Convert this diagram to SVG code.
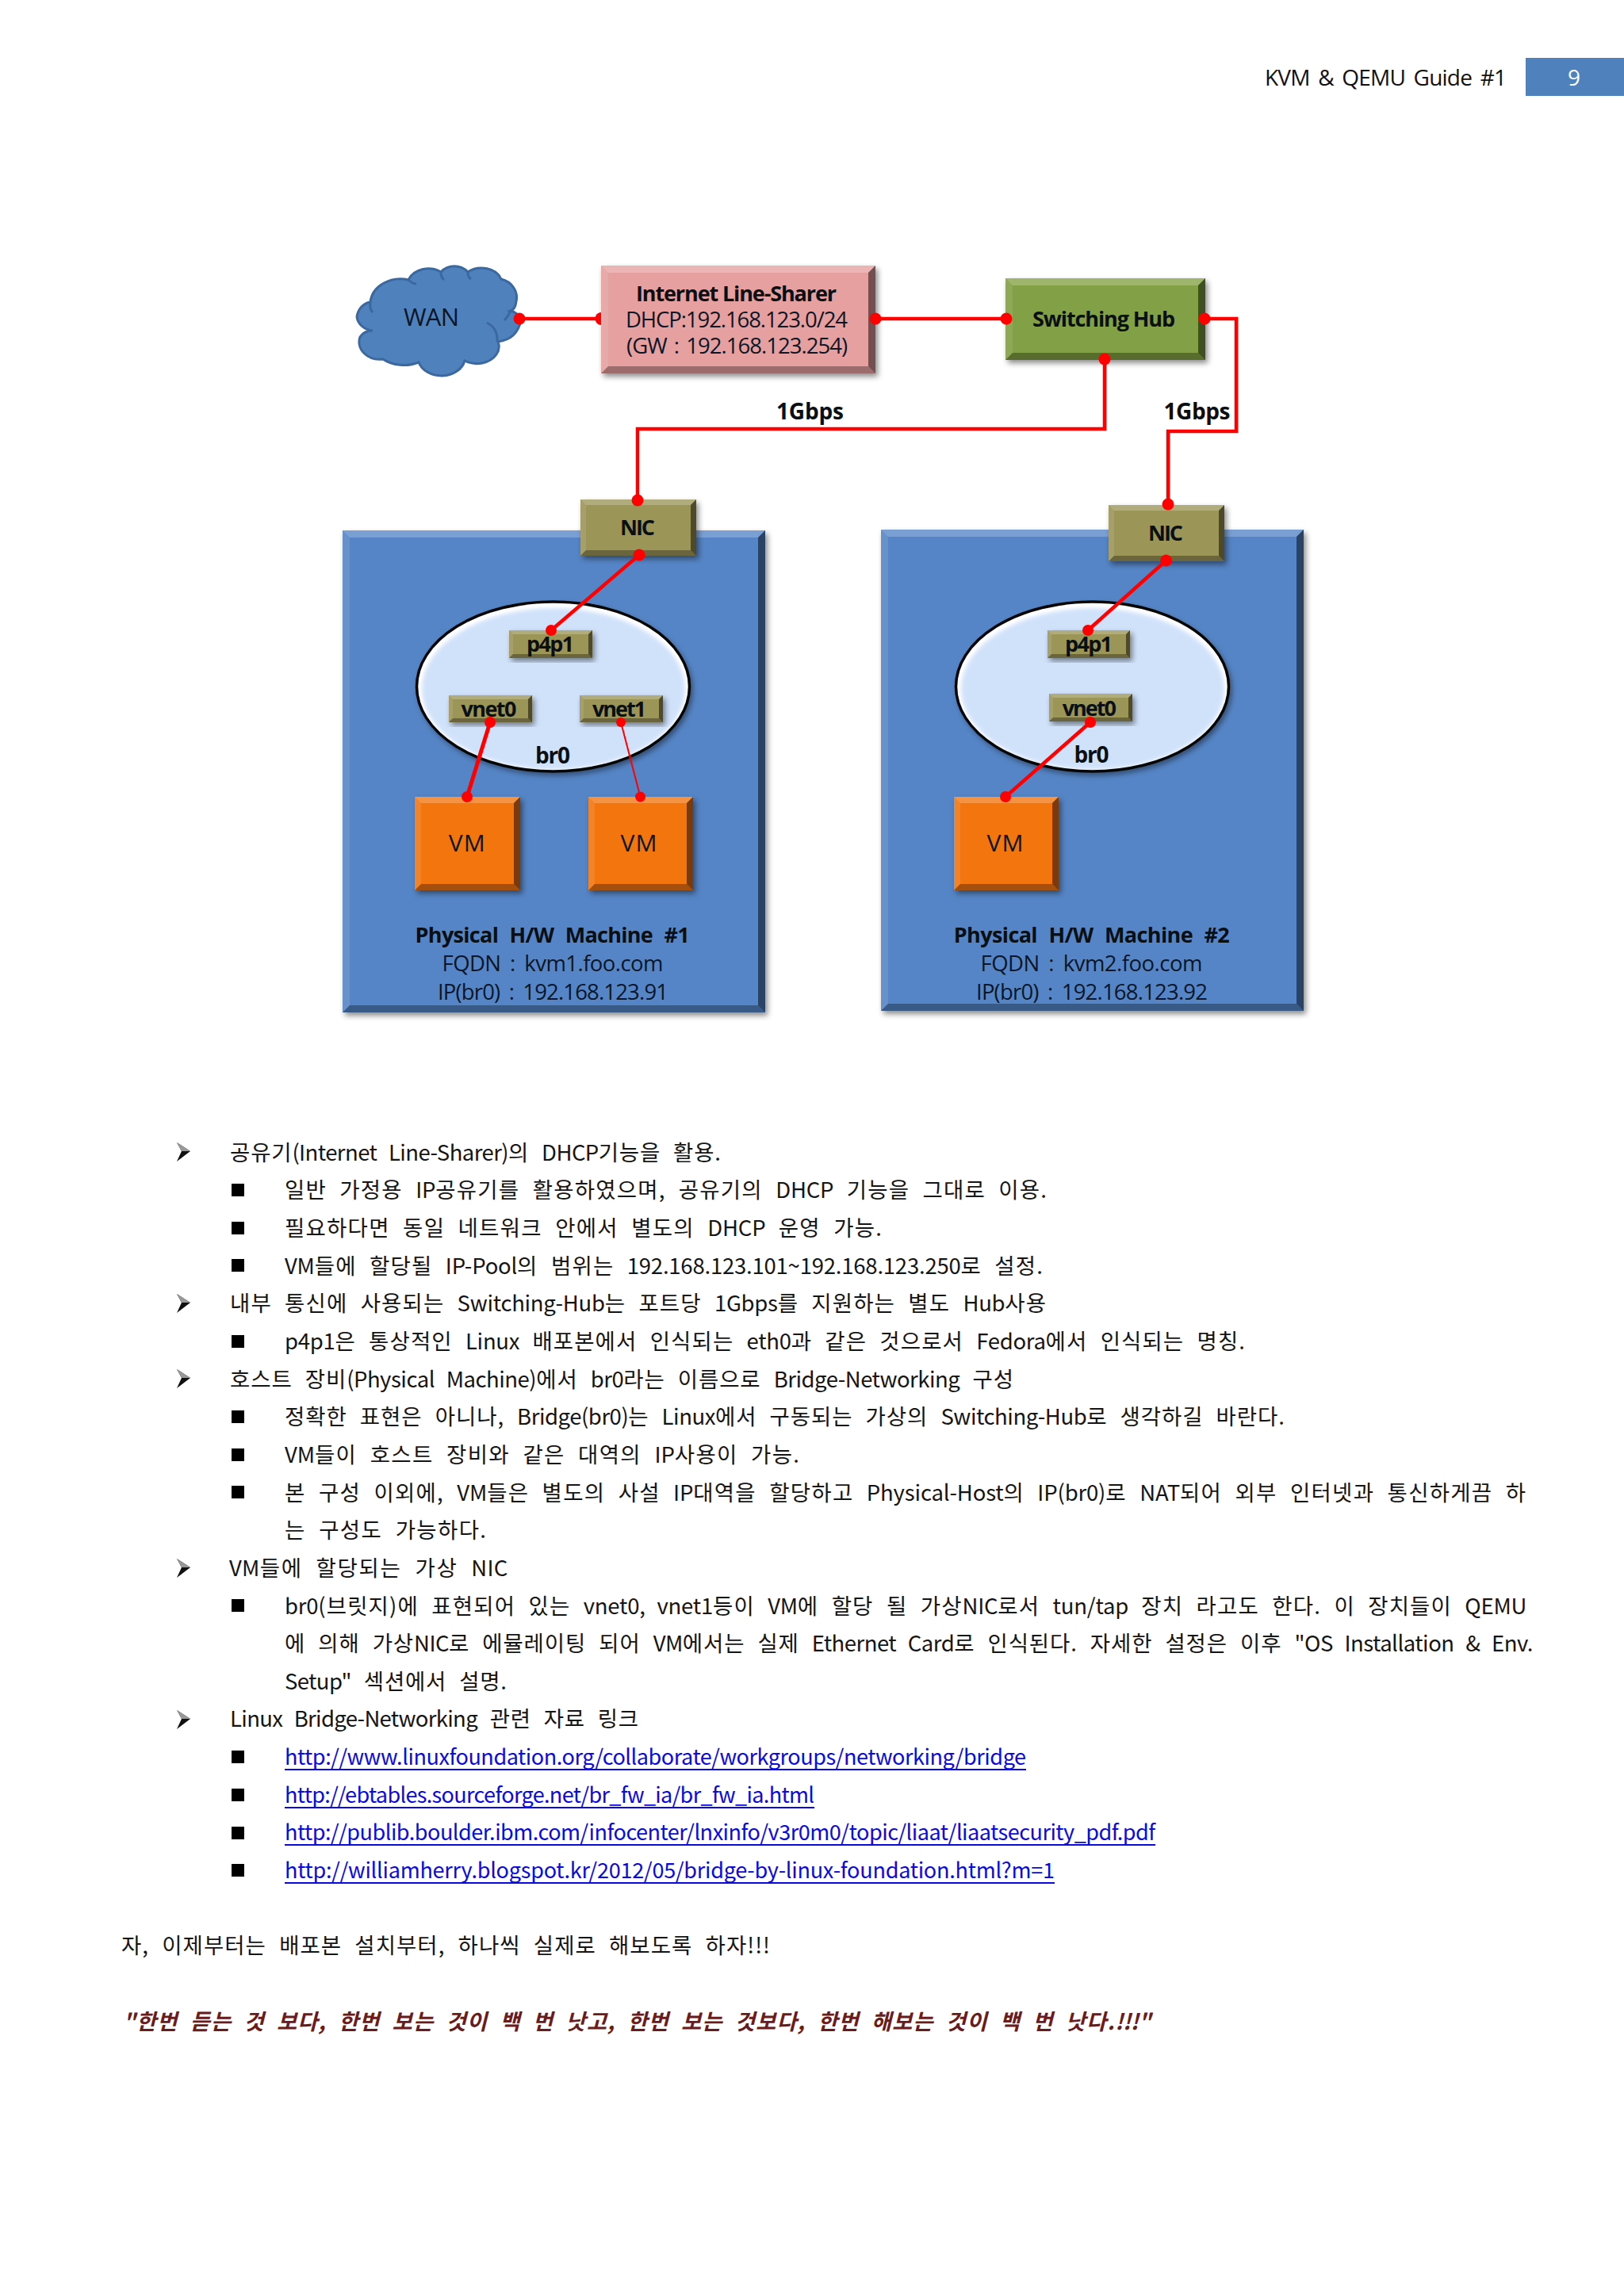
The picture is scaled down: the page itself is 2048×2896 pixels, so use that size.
<svg xmlns="http://www.w3.org/2000/svg" width="2048" height="2896" viewBox="0 0 2048 2896">
<style>
text{font-family:"Noto Sans CJK KR","Noto Sans",sans-serif;fill:#111}
.lb{font-family:"Open Sans","Noto Sans CJK KR",sans-serif;fill:#0c1626;font-size:27.5px}
.lbb{font-family:"Open Sans","Noto Sans CJK KR",sans-serif;fill:#0a0f14;font-size:27px;font-weight:700}
.body{font-size:27.5px;word-spacing:9px;fill:#151515}
.e{letter-spacing:-1.4px}
.link{font-size:27px;fill:#0a0ae0}
.quote{font-size:27.5px;font-weight:700;font-style:italic;fill:#6a1c1c;word-spacing:8px}
.bt{fill:#fff;opacity:.22}.bl{fill:#fff;opacity:.1}.br{fill:#000;opacity:.5}.bb{fill:#000;opacity:.32}
.panel{fill:#5585c6}.pink{fill:#e6a0a0}.hub{fill:#82a044}.nic{fill:#9c9559}.vm{fill:#f27510}
.wire{fill:none;stroke:#ff0000;stroke-width:4.5}
.dot{fill:#ff0000}
.rule{fill:#0a0ae0}
</style>
<defs>
<filter id="sh" x="-10%" y="-10%" width="125%" height="125%"><feDropShadow dx="3" dy="4" stdDeviation="3.500" flood-color="#000" flood-opacity=".45"/></filter>
<filter id="bl2"><feGaussianBlur stdDeviation="2.5"/></filter>
<g id="arrow"><polygon points="0,0 17,11 0,24 6,11" fill="#111"/><polygon points="0,0 17,11 6,11" fill="#999"/></g>
<rect id="sq" width="16" height="16" fill="#000"/>
</defs>

<g id="header">
<text x="1595" y="108" font-size="28" textLength="305" style="font-family:'Open Sans',sans-serif;word-spacing:4px">KVM &amp; QEMU Guide #1</text>
<rect x="1924" y="73" width="124" height="48" fill="#4f81bd"/>
<text x="1985" y="108" font-size="28" text-anchor="middle" style="font-family:'Open Sans',sans-serif;fill:#fff">9</text>
</g>

<g id="wan">
<path d="M467,381 A38,32 0 0 1 515,353 A27,22 0 0 1 556,343 A22,20 0 0 1 590,343 A26,20 0 0 1 632,352 A26,24 0 0 1 651,380 Q650,390 644,392 A18,20 0 0 1 657,404 Q652,428 628,431 A30,22 0 0 1 626,447 A28,22 0 0 1 586,455 A30,24 0 0 1 528,457 A36,24 0 0 1 483,453 A26,22 0 0 1 454,425 A18,14 0 0 1 470,417 A22,20 0 0 1 450,400 A20,22 0 0 1 467,381 Z" fill="#4f81bd" stroke="#3a689f" stroke-width="3"/>
<path d="M614,407 Q628,414 627,431 M644,392 Q640,400 636,404 M467,381 Q466,390 470,394 M515,353 Q520,358 525,358 M556,343 Q556,350 560,353 M590,343 Q590,350 594,352" fill="none" stroke="#3a689f" stroke-width="3"/>
<text class="lb" x="509" y="411" textLength="70" style="font-size:31px">WAN</text>
</g>

<g id="sharer" filter="url(#sh)">
<rect class="pink" x="758" y="335" width="346" height="136"/>
<polygon class="bt" points="758,335 1104,335 1095,344 767,344"/>
<polygon class="bl" points="758,335 767,344 767,462 758,471"/>
<polygon class="br" points="1104,335 1104,471 1095,462 1095,344"/>
<polygon class="bb" points="758,471 1104,471 1095,462 767,462"/>
</g>
<g id="sharer-label">
<text class="lbb" x="802" y="380" textLength="253">Internet Line-Sharer</text>
<text class="lb" x="789" y="413" textLength="280">DHCP:192.168.123.0/24</text>
<text class="lb" x="790" y="446" textLength="279" style="word-spacing:3px">(GW : 192.168.123.254)</text>
</g>

<g id="switch">
<g filter="url(#sh)">
<rect class="hub" x="1268" y="351" width="252" height="103"/>
<polygon class="bt" points="1268,351 1520,351 1511,360 1277,360"/>
<polygon class="bl" points="1268,351 1277,360 1277,445 1268,454"/>
<polygon class="br" points="1520,351 1520,454 1511,445 1511,360"/>
<polygon class="bb" points="1268,454 1520,454 1511,445 1277,445"/>
</g>
<text class="lbb" x="1302" y="412" textLength="180">Switching Hub</text>
</g>

<g id="machine1">
<g filter="url(#sh)">
<rect class="panel" x="432" y="669" width="533" height="608"/>
<polygon class="bt" points="432,669 965,669 956,678 441,678"/>
<polygon class="bl" points="432,669 441,678 441,1268 432,1277"/>
<polygon class="br" points="965,669 965,1277 956,1268 956,678"/>
<polygon class="bb" points="432,1277 965,1277 956,1268 441,1268"/>
</g>
<text class="lbb" x="523.6" y="1189" textLength="346" style="word-spacing:8px">Physical H/W Machine #1</text>
<text class="lb" x="557.5" y="1225" textLength="279" style="word-spacing:5px">FQDN : kvm1.foo.com</text>
<text class="lb" x="552" y="1261" textLength="291" style="word-spacing:5px">IP(br0) : 192.168.123.91</text>
</g>

<g id="bridge1">
<ellipse cx="697.5" cy="866" rx="173" ry="108" fill="#000" filter="url(#sh)"/>
<ellipse cx="697.5" cy="866" rx="172" ry="107" fill="#fff"/>
<ellipse cx="698" cy="869" rx="166" ry="102" fill="#d0e2fa" filter="url(#bl2)"/>
<ellipse cx="697.5" cy="866" rx="172" ry="107" fill="none" stroke="#050505" stroke-width="3.5"/>
<text class="lbb" x="675" y="962.5" textLength="44" style="font-size:28px">br0</text>
</g>

<g id="machine2">
<g filter="url(#sh)">
<rect class="panel" x="1111" y="668" width="533" height="607"/>
<polygon class="bt" points="1111,668 1644,668 1635,677 1120,677"/>
<polygon class="bl" points="1111,668 1120,677 1120,1266 1111,1275"/>
<polygon class="br" points="1644,668 1644,1275 1635,1266 1635,677"/>
<polygon class="bb" points="1111,1275 1644,1275 1635,1266 1120,1266"/>
</g>
<text class="lbb" x="1202.7" y="1189" textLength="348" style="word-spacing:8px">Physical H/W Machine #2</text>
<text class="lb" x="1236.5" y="1225" textLength="280" style="word-spacing:5px">FQDN : kvm2.foo.com</text>
<text class="lb" x="1231" y="1261" textLength="292" style="word-spacing:5px">IP(br0) : 192.168.123.92</text>
</g>

<g id="bridge2">
<ellipse cx="1377.5" cy="866" rx="173" ry="108" fill="#000" filter="url(#sh)"/>
<ellipse cx="1377.5" cy="866" rx="172" ry="107" fill="#fff"/>
<ellipse cx="1378" cy="869" rx="166" ry="102" fill="#d0e2fa" filter="url(#bl2)"/>
<ellipse cx="1377.5" cy="866" rx="172" ry="107" fill="none" stroke="#050505" stroke-width="3.5"/>
<text class="lbb" x="1354.6" y="962" textLength="44" style="font-size:28px">br0</text>
</g>

<g id="nic1">
<g filter="url(#sh)">
<rect class="nic" x="732" y="630" width="146" height="71"/>
<polygon class="bt" points="732,630 878,630 871,637 739,637"/>
<polygon class="bl" points="732,630 739,637 739,694 732,701"/>
<polygon class="br" points="878,630 878,701 871,694 871,637"/>
<polygon class="bb" points="732,701 878,701 871,694 739,694"/>
</g>
<text class="lbb" x="782" y="675" textLength="44">NIC</text>
</g>
<g id="nic2">
<g filter="url(#sh)">
<rect class="nic" x="1398" y="637" width="146" height="71"/>
<polygon class="bt" points="1398,637 1544,637 1537,644 1405,644"/>
<polygon class="bl" points="1398,637 1405,644 1405,701 1398,708"/>
<polygon class="br" points="1544,637 1544,708 1537,701 1537,644"/>
<polygon class="bb" points="1398,708 1544,708 1537,701 1405,701"/>
</g>
<text class="lbb" x="1448" y="681.5" textLength="44">NIC</text>
</g>

<g id="p4p1-a">
<g filter="url(#sh)">
<rect class="nic" x="642" y="795" width="105" height="35"/>
<polygon class="bt" points="642,795 747,795 742,800 647,800"/>
<polygon class="bl" points="642,795 647,800 647,825 642,830"/>
<polygon class="br" points="747,795 747,830 742,825 742,800"/>
<polygon class="bb" points="642,830 747,830 742,825 647,825"/>
</g>
<text class="lbb" x="664" y="821.5" textLength="60">p4p1</text>
</g>
<g id="vnet0-a">
<g filter="url(#sh)">
<rect class="nic" x="566" y="877" width="105" height="34"/>
<polygon class="bt" points="566,877 671,877 666,882 571,882"/>
<polygon class="bl" points="566,877 571,882 571,906 566,911"/>
<polygon class="br" points="671,877 671,911 666,906 666,882"/>
<polygon class="bb" points="566,911 671,911 666,906 571,906"/>
</g>
<text class="lbb" x="581.4" y="904" textLength="70">vnet0</text>
</g>
<g id="vnet1-a">
<g filter="url(#sh)">
<rect class="nic" x="731" y="877" width="105" height="34"/>
<polygon class="bt" points="731,877 836,877 831,882 736,882"/>
<polygon class="bl" points="731,877 736,882 736,906 731,911"/>
<polygon class="br" points="836,877 836,911 831,906 831,882"/>
<polygon class="bb" points="731,911 836,911 831,906 736,906"/>
</g>
<text class="lbb" x="747" y="904" textLength="68">vnet1</text>
</g>
<g id="p4p1-b">
<g filter="url(#sh)">
<rect class="nic" x="1321" y="795" width="104" height="35"/>
<polygon class="bt" points="1321,795 1425,795 1420,800 1326,800"/>
<polygon class="bl" points="1321,795 1326,800 1326,825 1321,830"/>
<polygon class="br" points="1425,795 1425,830 1420,825 1420,800"/>
<polygon class="bb" points="1321,830 1425,830 1420,825 1326,825"/>
</g>
<text class="lbb" x="1343" y="821.5" textLength="60">p4p1</text>
</g>
<g id="vnet0-b">
<g filter="url(#sh)">
<rect class="nic" x="1323" y="875" width="105" height="35"/>
<polygon class="bt" points="1323,875 1428,875 1423,880 1328,880"/>
<polygon class="bl" points="1323,875 1328,880 1328,905 1323,910"/>
<polygon class="br" points="1428,875 1428,910 1423,905 1423,880"/>
<polygon class="bb" points="1323,910 1428,910 1423,905 1328,905"/>
</g>
<text class="lbb" x="1339.7" y="902.7" textLength="68.3">vnet0</text>
</g>

<g id="vm1">
<g filter="url(#sh)">
<rect class="vm" x="523" y="1005" width="133" height="118"/>
<polygon class="bt" points="523,1005 656,1005 648,1013 531,1013"/>
<polygon class="bl" points="523,1005 531,1013 531,1115 523,1123"/>
<polygon class="br" points="656,1005 656,1123 648,1115 648,1013"/>
<polygon class="bb" points="523,1123 656,1123 648,1115 531,1115"/>
</g>
<text class="lb" x="565.7" y="1074" textLength="46" style="font-size:30px">VM</text>
</g>
<g id="vm2">
<g filter="url(#sh)">
<rect class="vm" x="742" y="1005" width="132" height="118"/>
<polygon class="bt" points="742,1005 874,1005 866,1013 750,1013"/>
<polygon class="bl" points="742,1005 750,1013 750,1115 742,1123"/>
<polygon class="br" points="874,1005 874,1123 866,1115 866,1013"/>
<polygon class="bb" points="742,1123 874,1123 866,1115 750,1115"/>
</g>
<text class="lb" x="782.5" y="1074" textLength="46" style="font-size:30px">VM</text>
</g>
<g id="vm3">
<g filter="url(#sh)">
<rect class="vm" x="1203" y="1005" width="132" height="118"/>
<polygon class="bt" points="1203,1005 1335,1005 1327,1013 1211,1013"/>
<polygon class="bl" points="1203,1005 1211,1013 1211,1115 1203,1123"/>
<polygon class="br" points="1335,1005 1335,1123 1327,1115 1327,1013"/>
<polygon class="bb" points="1203,1123 1335,1123 1327,1115 1211,1115"/>
</g>
<text class="lb" x="1244.5" y="1074" textLength="46" style="font-size:30px">VM</text>
</g>

<g id="connectors">
<path class="wire" d="M655,402 H758"/>
<path class="wire" d="M1104,402 H1269"/>
<path class="wire" d="M1393,453 V541 H804 V631"/>
<path class="wire" d="M1519,402 H1559 V544 H1473 V636"/>
<path class="wire" d="M806,700 L695,795"/>
<path class="wire" d="M618,911 L589,1005" style="stroke-width:5"/>
<path class="wire" d="M783,911 L807.500,1005" style="stroke-width:2"/>
<path class="wire" d="M1470.500,707 L1372,795"/>
<path class="wire" d="M1375,911 L1268,1005"/>
<circle class="dot" cx="655" cy="402" r="7.500"/>
<path class="dot" d="M758,394 A7.500,8 0 0 0 758,410 Z"/>
<circle class="dot" cx="1104" cy="402" r="7.500"/>
<circle class="dot" cx="1269" cy="402" r="7.500"/>
<circle class="dot" cx="1393" cy="453" r="7.500"/>
<circle class="dot" cx="1519" cy="402" r="7.500"/>
<circle class="dot" cx="804" cy="631" r="7.500"/>
<circle class="dot" cx="806" cy="700" r="7.500"/>
<circle class="dot" cx="695" cy="795" r="7"/>
<circle class="dot" cx="618" cy="911" r="7"/>
<circle class="dot" cx="783" cy="911" r="6"/>
<circle class="dot" cx="589" cy="1005" r="7"/>
<circle class="dot" cx="807.500" cy="1005" r="6.500"/>
<circle class="dot" cx="1473" cy="636" r="7.500"/>
<circle class="dot" cx="1470.500" cy="707" r="7.500"/>
<circle class="dot" cx="1372" cy="795" r="7"/>
<circle class="dot" cx="1375" cy="911" r="7"/>
<circle class="dot" cx="1268" cy="1005" r="7"/>
<text class="lbb" x="979" y="529" textLength="85" style="font-size:28px">1Gbps</text>
<text class="lbb" x="1467.500" y="529" textLength="84" style="font-size:28px">1Gbps</text>
</g>

<g id="bullets">
<use href="#arrow" x="223" y="1441"/><use href="#sq" x="292" y="1493"/><use href="#sq" x="292" y="1541"/><use href="#sq" x="292" y="1588"/>
<use href="#arrow" x="223" y="1632"/><use href="#sq" x="292" y="1684"/>
<use href="#arrow" x="223" y="1727"/><use href="#sq" x="292" y="1779"/><use href="#sq" x="292" y="1827"/><use href="#sq" x="292" y="1874"/>
<use href="#arrow" x="223" y="1966"/><use href="#sq" x="292" y="2017"/>
<use href="#arrow" x="223" y="2157"/><use href="#sq" x="292" y="2208"/><use href="#sq" x="292" y="2256"/><use href="#sq" x="292" y="2304"/><use href="#sq" x="292" y="2351"/>
</g>

<g id="body">
<text class="body" x="290" y="1464" textLength="619">공유기<tspan class="e">(Internet Line-Sharer)</tspan>의 <tspan class="e">DHCP</tspan>기능을 활용.</text>
<text class="body" x="359" y="1511" textLength="961">일반 가정용 <tspan class="e">IP</tspan>공유기를 활용하였으며, 공유기의 <tspan class="e">DHCP</tspan> 기능을 그대로 이용.</text>
<text class="body" x="359" y="1559" textLength="753">필요하다면 동일 네트워크 안에서 별도의 <tspan class="e">DHCP</tspan> 운영 가능.</text>
<text class="body" x="359" y="1607" textLength="956"><tspan class="e">VM</tspan>들에 할당될 <tspan class="e">IP-Pool</tspan>의 범위는 <tspan class="e">192.168.123.101~192.168.123.250</tspan>로 설정.</text>
<text class="body" x="290" y="1654" textLength="1029">내부 통신에 사용되는 <tspan class="e">Switching-Hub</tspan>는 포트당 <tspan class="e">1Gbps</tspan>를 지원하는 별도 <tspan class="e">Hub</tspan>사용</text>
<text class="body" x="359" y="1702" textLength="1211"><tspan class="e">p4p1</tspan>은 통상적인 <tspan class="e">Linux</tspan> 배포본에서 인식되는 <tspan class="e">eth0</tspan>과 같은 것으로서 <tspan class="e">Fedora</tspan>에서 인식되는 명칭.</text>
<text class="body" x="290" y="1750" textLength="988">호스트 장비<tspan class="e">(Physical Machine)</tspan>에서 <tspan class="e">br0</tspan>라는 이름으로 <tspan class="e">Bridge-Networking</tspan> 구성</text>
<text class="body" x="359" y="1797" textLength="1261">정확한 표현은 아니나, <tspan class="e">Bridge(br0)</tspan>는 <tspan class="e">Linux</tspan>에서 구동되는 가상의 <tspan class="e">Switching-Hub</tspan>로 생각하길 바란다.</text>
<text class="body" x="359" y="1845" textLength="649"><tspan class="e">VM</tspan>들이 호스트 장비와 같은 대역의 <tspan class="e">IP</tspan>사용이 가능.</text>
<text class="body" x="359" y="1893" textLength="1565">본 구성 이외에, <tspan class="e">VM</tspan>들은 별도의 사설 <tspan class="e">IP</tspan>대역을 할당하고 <tspan class="e">Physical-Host</tspan>의 <tspan class="e">IP(br0)</tspan>로 <tspan class="e">NAT</tspan>되어 외부 인터넷과 통신하게끔 하</text>
<text class="body" x="359" y="1940" textLength="254">는 구성도 가능하다.</text>
<text class="body" x="289" y="1988" textLength="350"><tspan class="e">VM</tspan>들에 할당되는 가상 <tspan class="e">NIC</tspan></text>
<text class="body" x="359" y="2036" textLength="1565"><tspan class="e">br0</tspan>(브릿지)에 표현되어 있는 <tspan class="e">vnet0, vnet1</tspan>등이 <tspan class="e">VM</tspan>에 할당 될 가상<tspan class="e">NIC</tspan>로서 <tspan class="e">tun/tap</tspan> 장치 라고도 한다. 이 장치들이 <tspan class="e">QEMU</tspan></text>
<text class="body" x="359" y="2083" textLength="1573">에 의해 가상<tspan class="e">NIC</tspan>로 에뮬레이팅 되어 <tspan class="e">VM</tspan>에서는 실제 <tspan class="e">Ethernet Card</tspan>로 인식된다. 자세한 설정은 이후 <tspan class="e">"OS Installation &amp; Env.</tspan></text>
<text class="body" x="359" y="2131" textLength="280"><tspan class="e">Setup"</tspan> 섹션에서 설명.</text>
<text class="body" x="290" y="2178" textLength="515"><tspan class="e">Linux Bridge-Networking</tspan> 관련 자료 링크</text>
<text class="link" x="359" y="2226" textLength="935">http://www.linuxfoundation.org/collaborate/workgroups/networking/bridge</text>
<rect class="rule" x="359" y="2231" width="935" height="2"/>
<text class="link" x="359" y="2274" textLength="668">http://ebtables.sourceforge.net/br_fw_ia/br_fw_ia.html</text>
<rect class="rule" x="359" y="2279" width="668" height="2"/>
<text class="link" x="359" y="2321" textLength="1098">http://publib.boulder.ibm.com/infocenter/lnxinfo/v3r0m0/topic/liaat/liaatsecurity_pdf.pdf</text>
<rect class="rule" x="359" y="2326" width="1098" height="2"/>
<text class="link" x="359" y="2369" textLength="971">http://williamherry.blogspot.kr/2012/05/bridge-by-linux-foundation.html?m=1</text>
<rect class="rule" x="359" y="2374" width="971" height="2"/>
<text class="body" x="153" y="2464" textLength="818">자, 이제부터는 배포본 설치부터, 하나씩 실제로 해보도록 하자!!!</text>
<text class="quote" x="155" y="2560" textLength="1295">"한번 듣는 것 보다, 한번 보는 것이 백 번 낫고, 한번 보는 것보다, 한번 해보는 것이 백 번 낫다.<tspan class="e">!!!"</tspan></text>
</g>
</svg>
